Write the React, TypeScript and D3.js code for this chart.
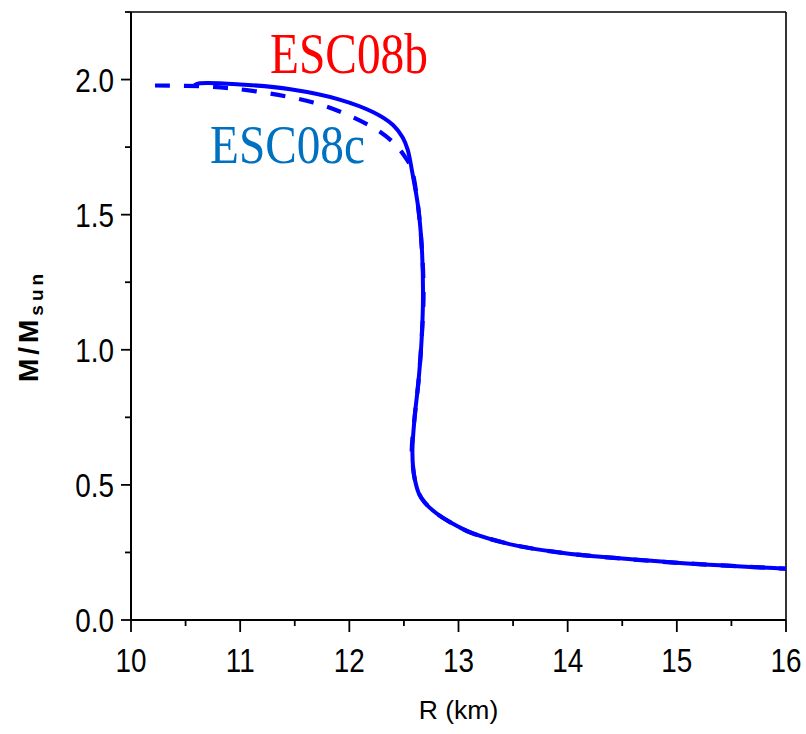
import React from "react";
import * as d3 from "d3";

// ESC08b (solid) mass-radius curve: [R km, M/Msun]
const esc08bR = [10.58, 10.63, 11.0, 11.46, 11.91, 12.22, 12.4, 12.49, 12.535, 12.575, 12.63, 12.665, 12.675, 12.665, 12.635, 12.598, 12.578, 12.585, 12.6, 12.635, 12.69, 12.82, 13.0, 13.12, 13.5, 13.96, 14.42, 15.03, 16.0];
const esc08bM = [1.979, 1.986, 1.982, 1.964, 1.926, 1.879, 1.832, 1.785, 1.74, 1.66, 1.53, 1.37, 1.21, 1.06, 0.89, 0.75, 0.63, 0.56, 0.52, 0.47, 0.435, 0.388, 0.345, 0.322, 0.278, 0.248, 0.23, 0.211, 0.19];

// ESC08c (dashed)
const esc08cR = [10.22, 10.7, 11.15, 11.67, 11.98, 12.28, 12.42, 12.5, 12.555, 12.578, 12.63, 12.665, 12.68, 12.665, 12.635, 12.598, 12.572, 12.585, 12.6, 12.635, 12.69, 12.82, 13.0, 13.12, 13.5, 13.96, 14.42, 15.03, 16.0];
const esc08cM = [1.978, 1.974, 1.956, 1.915, 1.87, 1.807, 1.76, 1.72, 1.685, 1.66, 1.53, 1.37, 1.21, 1.06, 0.89, 0.75, 0.63, 0.56, 0.52, 0.47, 0.435, 0.388, 0.345, 0.322, 0.278, 0.248, 0.23, 0.211, 0.19];

const xMajor = [10, 11, 12, 13, 14, 15, 16];
const xMinor = [10.5, 11.5, 12.5, 13.5, 14.5, 15.5];
const yMajor = [0, 0.5, 1.0, 1.5, 2.0];
const yMinor = [0.25, 0.75, 1.25, 1.75, 2.25];

const W = 806;
const H = 734;

export default function App() {
  const x = d3.scaleLinear().domain([10, 16]).range([131, 786]);
  const y = d3.scaleLinear().domain([0, 2.25]).range([620, 12]);

  const line = d3
    .line<[number, number]>()
    .x((d) => x(d[0]))
    .y((d) => y(d[1]))
    .curve(d3.curveCatmullRom.alpha(0.5));

  const solid: [number, number][] = esc08bR.map((r, i) => [r, esc08bM[i]]);
  const dashed: [number, number][] = esc08cR.map((r, i) => [r, esc08cM[i]]);

  const tickFont = "'Liberation Sans', Arial, sans-serif";

  return (
    <svg
      width={W}
      height={H}
      style={{ position: "absolute", left: 0, top: 0, background: "#fff" }}
    >
      <rect x={0} y={0} width={W} height={H} fill="#fff" />
      {/* frame */}
      <line x1={x(10)} x2={x(16)} y1={y(2.25)} y2={y(2.25)} stroke="#000" strokeWidth={1.6} />
      <line x1={x(16)} x2={x(16)} y1={y(2.25)} y2={y(0)} stroke="#000" strokeWidth={1.6} />
      <line x1={x(10)} x2={x(10)} y1={y(2.25)} y2={y(0)} stroke="#000" strokeWidth={2} />
      <line x1={x(10)} x2={x(16)} y1={y(0)} y2={y(0)} stroke="#000" strokeWidth={2.2} />

      {/* x ticks */}
      {xMajor.map((v) => (
        <line key={"xM" + v} x1={x(v)} x2={x(v)} y1={y(0)} y2={y(0) + 12} stroke="#000" strokeWidth={1.8} />
      ))}
      {xMinor.map((v) => (
        <line key={"xm" + v} x1={x(v)} x2={x(v)} y1={y(0)} y2={y(0) + 6} stroke="#000" strokeWidth={1.8} />
      ))}
      {xMajor.map((v) => (
        <text
          key={"xl" + v}
          transform={`translate(${x(v)},672) scale(0.82,1)`}
          textAnchor="middle"
          fontFamily={tickFont}
          fontSize={34}
          fill="#000"
        >
          {String(v)}
        </text>
      ))}

      {/* y ticks */}
      {yMajor.map((v) => (
        <line key={"yM" + v} x1={x(10) - 10} x2={x(10)} y1={y(v)} y2={y(v)} stroke="#000" strokeWidth={1.8} />
      ))}
      {yMinor.map((v) => (
        <line key={"ym" + v} x1={x(10) - 6} x2={x(10)} y1={y(v)} y2={y(v)} stroke="#000" strokeWidth={1.8} />
      ))}
      {yMajor.map((v) => (
        <text
          key={"yl" + v}
          transform={`translate(114,${y(v) + 12}) scale(0.82,1)`}
          textAnchor="end"
          fontFamily={tickFont}
          fontSize={34}
          fill="#000"
        >
          {v.toFixed(1)}
        </text>
      ))}

      {/* axis titles */}
      <text x={458.5} y={719} textAnchor="middle" fontFamily={tickFont} fontSize={26.5} fill="#000">
        R (km)
      </text>
      <text
        transform="translate(38,326) rotate(-90)"
        textAnchor="middle"
        fontFamily={tickFont}
        fontWeight="bold"
        fill="#000"
      >
        <tspan fontSize={28} letterSpacing={4}>M/M</tspan>
        <tspan fontSize={19} dy={5} letterSpacing={4}>sun</tspan>
      </text>

      {/* curves */}
      <path d={line(solid) || ""} fill="none" stroke="#0000ff" strokeWidth={4} strokeLinejoin="round" />
      <path
        d={line(dashed) || ""}
        fill="none"
        stroke="#0000ff"
        strokeWidth={4.2}
        strokeDasharray="15 14"
      />

      {/* labels */}
      <text
        x={270}
        y={73}
        fontFamily="'Liberation Serif', 'Times New Roman', serif"
        fontSize={57}
        fill="#ff0000"
        textLength={158}
        lengthAdjust="spacingAndGlyphs"
      >
        ESC08b
      </text>
      <text
        x={210}
        y={163}
        fontFamily="'Liberation Serif', 'Times New Roman', serif"
        fontSize={55}
        fill="#0070c0"
        textLength={155}
        lengthAdjust="spacingAndGlyphs"
      >
        ESC08c
      </text>
    </svg>
  );
}
